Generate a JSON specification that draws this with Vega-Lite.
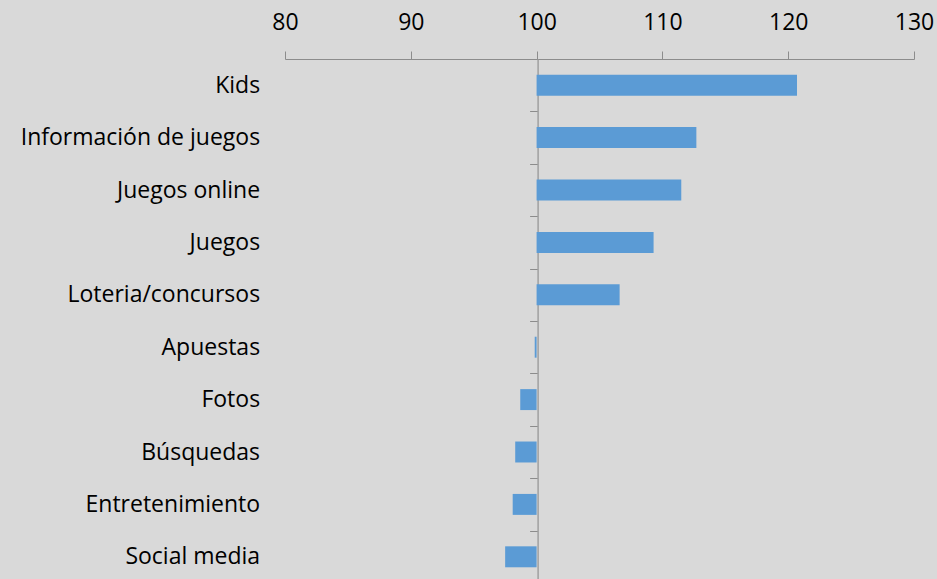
{
  "$schema": "https://vega.github.io/schema/vega-lite/v6.json",
  "autosize": {"type": "none"},
  "width": 629,
  "height": 524,
  "padding": {"left": 285, "top": 59, "right": 23, "bottom": 0},
  "background": "#d9d9d9",
  "config": {
    "view": {"stroke": null},
    "font": "Open Sans",
    "axis": {"labelFont": "Open Sans", "labelColor": "#000000", "grid": false}
  },
  "data": {
    "values": [
      {"category": "Kids", "value": 120.7},
      {"category": "Información de juegos", "value": 112.7},
      {"category": "Juegos online", "value": 111.5},
      {"category": "Juegos", "value": 109.3},
      {"category": "Loteria/concursos", "value": 106.6},
      {"category": "Apuestas", "value": 99.85},
      {"category": "Fotos", "value": 98.7},
      {"category": "Búsquedas", "value": 98.3},
      {"category": "Entretenimiento", "value": 98.1},
      {"category": "Social media", "value": 97.5}
    ]
  },
  "mark": {"type": "bar", "color": "#5b9bd5", "height": {"band": 0.4}},
  "encoding": {
    "y": {
      "field": "category",
      "type": "nominal",
      "sort": null,
      "title": null,
      "scale": {"paddingInner": 0, "paddingOuter": 0},
      "axis": {
        "orient": "left",
        "offset": -252.6,
        "tickBand": "extent",
        "tickSize": 8,
        "tickColor": "#8c8c8c",
        "domainColor": "#a0a0a0",
        "domainWidth": 1.5,
        "labelPadding": 270,
        "labelLimit": 0,
        "labelFontSize": 23,
        "labelColor": "#000000"
      }
    },
    "x": {
      "field": "value",
      "type": "quantitative",
      "title": null,
      "scale": {"domain": [80, 130], "nice": false, "zero": false},
      "axis": {
        "orient": "top",
        "values": [80, 90, 100, 110, 120, 130],
        "tickSize": 8,
        "tickColor": "#8c8c8c",
        "domainColor": "#8c8c8c",
        "labelFontSize": 23,
        "labelPadding": 17,
        "labelFlush": false
      }
    },
    "x2": {"datum": 100}
  }
}
